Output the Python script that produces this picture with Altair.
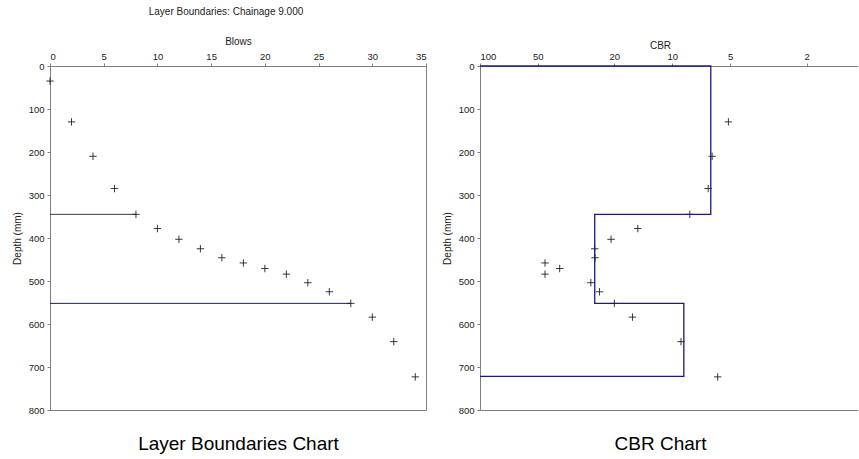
import altair as alt
import pandas as pd

# ---- data ----
blows = [0, 2, 4, 6, 8, 10, 12, 14, 16, 18, 20, 22, 24, 26, 28, 30, 32, 34]
depth_blows = [35, 130, 210, 285, 345, 378, 403, 425, 446, 458, 471, 484, 504, 525, 552, 584, 641, 723]

cbr_depth = [130, 210, 285, 345, 378, 403, 425, 446, 458, 471, 484, 504, 525, 552, 584, 641, 723]
cbr_values = [5.1, 6.2, 6.5, 8.1, 15.1, 20.8, 25.3, 25.2, 45.9, 38.5, 45.9, 26.5, 23.9, 20.0, 16.1, 9.0, 5.8]

layer_tops = [0, 345, 552]
layer_bottoms = [345, 552, 722]
layer_cbr = [6.3, 25.3, 8.7]
cbr_edge = 100

boundary_depths = [345, 552]
boundary_start = [0, 0]
boundary_blows = [8, 28]
boundary_colors = ["#3a3a3a", "#1a1a80"]

blows_ticks = [0, 5, 10, 15, 20, 25, 30, 35]
cbr_ticks = [100, 50, 20, 10, 5, 2]
depth_ticks = [0, 100, 200, 300, 400, 500, 600, 700, 800]

# ---- tables ----
df_blows = pd.DataFrame({"blows": blows, "depth": depth_blows})
df_cbr = pd.DataFrame({"cbr": cbr_values, "depth": cbr_depth})
df_bound = pd.DataFrame({"x0": boundary_start, "x1": boundary_blows,
                         "depth": boundary_depths, "col": boundary_colors})
step_rows = [{"i": 0, "cbr": cbr_edge, "depth": layer_tops[0]}]
for c, t, b in zip(layer_cbr, layer_tops, layer_bottoms):
    step_rows.append({"i": len(step_rows), "cbr": c, "depth": t})
    step_rows.append({"i": len(step_rows), "cbr": c, "depth": b})
step_rows.append({"i": len(step_rows), "cbr": cbr_edge, "depth": layer_bottoms[-1]})
df_step = pd.DataFrame(step_rows)

FONT = "Liberation Sans"
PLUS = "M-1,0H1M0,-1V1"
AX = "#808080"

yscale = alt.Scale(domain=[0, 800], reverse=True, nice=False, zero=False)
y_axis = alt.Axis(values=depth_ticks, title="Depth (mm)", grid=False, tickSize=3,
                  labelPadding=3, titlePadding=6, domainColor=AX, tickColor=AX)

# ---- left panel ----
xb = alt.Scale(domain=[0, 35], nice=False)
pts_left = alt.Chart(df_blows).mark_point(
    shape=PLUS, filled=False, color="#222", strokeWidth=0.9, size=55, opacity=1
).encode(
    x=alt.X("blows:Q", scale=xb,
            axis=alt.Axis(orient="top", values=blows_ticks, title="Blows", grid=False,
                          tickSize=3, labelPadding=2, titlePadding=5,
                          domainColor=AX, tickColor=AX)),
    y=alt.Y("depth:Q", scale=yscale, axis=y_axis),
)
rules_left = alt.Chart(df_bound).mark_rule(strokeWidth=1).encode(
    x=alt.X("x0:Q", scale=xb,
            axis=alt.Axis(orient="bottom", labels=False, ticks=False, grid=False,
                          domainColor=AX, title="Layer Boundaries Chart",
                          titleFontSize=19, titlePadding=24, titleColor="black")),
    x2="x1:Q",
    y=alt.Y("depth:Q", scale=yscale, axis=y_axis),
    color=alt.Color("col:N", scale=None),
)
left = alt.layer(rules_left, pts_left).resolve_axis(x="independent").properties(
    width=376, height=344,
    title=alt.TitleParams("Layer Boundaries: Chainage 9.000", fontSize=10, font=FONT,
                          fontWeight="normal", color="#222", dx=-12, offset=19,
                          anchor="middle"),
    view=alt.ViewBackground(stroke=AX),
)

# ---- right panel ----
xc = alt.Scale(type="log", domain=[1.08, 100], reverse=True, nice=False)
pts_right = alt.Chart(df_cbr).mark_point(
    shape=PLUS, filled=False, color="#222", strokeWidth=0.9, size=55, opacity=1
).encode(
    x=alt.X("cbr:Q", scale=xc,
            axis=alt.Axis(orient="top", values=cbr_ticks, format="d", title="CBR",
                          grid=False, tickSize=3, labelPadding=2, titlePadding=1,
                          titleX=180, domainColor=AX, tickColor=AX)),
    y=alt.Y("depth:Q", scale=yscale, axis=y_axis),
)
step = alt.Chart(df_step).mark_line(color="#1a1a80", strokeWidth=1.3).encode(
    x=alt.X("cbr:Q", scale=xc,
            axis=alt.Axis(orient="bottom", labels=False, ticks=False, grid=False,
                          domainColor=AX, title="CBR Chart",
                          titleFontSize=19, titlePadding=24, titleColor="black",
                          titleX=180)),
    y=alt.Y("depth:Q", scale=yscale, axis=y_axis),
    order="i:Q",
)
right = alt.layer(pts_right, step).resolve_axis(x="independent").properties(
    width=378, height=344,
    view=alt.ViewBackground(stroke=None),
)

chart = alt.hconcat(left, right, spacing=54, bounds="flush").properties(
    padding={"left": 11, "top": 6, "right": 0, "bottom": 0},
    background="white",
).configure_axis(
    labelFont=FONT, labelFontSize=9.5, labelColor="#222",
    titleFont=FONT, titleFontSize=10, titleFontWeight="normal", titleColor="#222",
).configure_view(stroke=None)

chart.save("out.html", embed_options={"renderer": "svg", "actions": False})
